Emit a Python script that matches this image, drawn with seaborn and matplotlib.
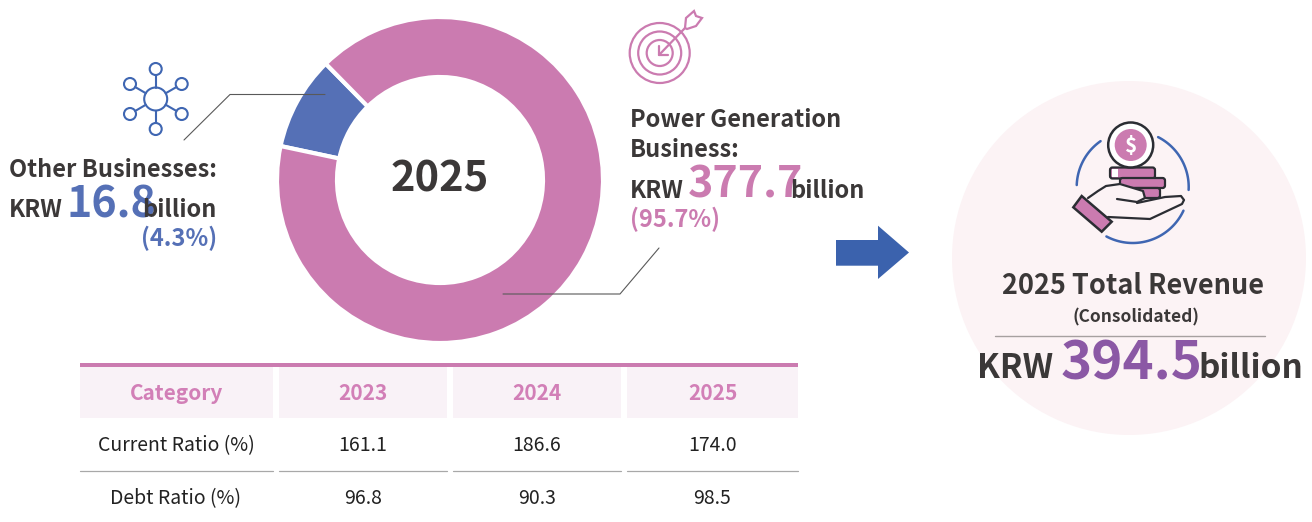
import numpy as np
import matplotlib
matplotlib.use("Agg")
import matplotlib.pyplot as plt
from matplotlib.patches import Circle, Polygon, Rectangle, FancyBboxPatch
import seaborn as sns

segments = ["Power Generation Business", "Other Businesses"]
drawn_shares = [90.7, 9.3]
revenue = [377.7, 16.8]
printed_shares = [95.7, 4.3]
total_revenue = 394.5
chart_year = "2025"

table_columns = ["Category", "2023", "2024", "2025"]
row_names = ["Current Ratio (%)", "Debt Ratio (%)"]
current_ratio = ["161.1", "186.6", "174.0"]
debt_ratio = ["96.8", "90.3", "98.5"]

PINK = "#CB7BB0"
BLUE = "#5570B6"
ICON_BLUE = "#3F66B2"
ARROW_BLUE = "#3B62AD"
PURPLE = "#8B58A5"
DARK = "#3B3838"
FONT = "Noto Sans CJK KR"

sns.set_theme(style="white")
plt.rcParams["font.family"] = [FONT, "DejaVu Sans"]

fig = plt.figure(figsize=(13.12, 5.22), dpi=100, facecolor="white")
ax = fig.add_axes([0, 0, 1, 1])
ax.set_xlim(0, 1312)
ax.set_ylim(522, 0)
ax.axis("off")


def txt(x, y, s, size, color=DARK, weight="bold", ha="left", zorder=6):
    ax.text(x, y, s, fontsize=size, color=color, fontweight=weight, ha=ha, va="baseline", zorder=zorder)


def ring(x, y, r, color, lw=1.5, face="none", z=5):
    ax.add_patch(Circle((x, y), r, fc=face, ec=color, lw=lw, zorder=z))


def arc(cx, cy, r, a1, a2, color, lw=1.5, z=5):
    t = np.radians(np.linspace(a1, a2, 50))
    ax.plot(cx + r * np.cos(t), cy + r * np.sin(t), color=color, lw=lw, zorder=z, solid_capstyle="round")


# donut
dax = fig.add_axes([(440 - 170) / 1312, (522 - 180 - 170) / 522, 340 / 1312, 340 / 522])
dax.pie(
    [drawn_shares[1], drawn_shares[0]],
    colors=[BLUE, PINK],
    startangle=134.5,
    radius=163 / 170,
    wedgeprops={"width": 60 / 170, "edgecolor": "white", "linewidth": 3},
)
dax.set_xlim(-1, 1)
dax.set_ylim(-1, 1)
dax.text(0, 0, chart_year, fontsize=30, fontweight="bold", color=DARK, ha="center", va="center")
dax.patch.set_alpha(0)

# leader lines, on top of the donut
lax = fig.add_axes([0, 0, 1, 1], sharex=ax, sharey=ax)
lax.axis("off")
lax.plot([184, 230, 325], [140, 94.5, 94.5], color="#595959", lw=0.8)
lax.plot([659, 620, 503], [248, 294, 294], color="#595959", lw=0.8)

# left label
txt(217, 177, "Other Businesses:", 17, ha="right")
txt(9, 217, "KRW", 17)
txt(67, 217, f"{revenue[1]}", 31, color=BLUE)
txt(217, 217, "billion", 17, ha="right")
txt(217, 246, f"({printed_shares[1]}%)", 17, color=BLUE, ha="right")

# right label
txt(630, 127, "Power Generation", 17)
txt(630, 157, "Business:", 17)
txt(630, 198, "KRW", 17)
txt(688, 198, f"{revenue[0]}", 31, color=PINK)
txt(790, 198, "billion", 17)
txt(630, 227, f"({printed_shares[0]}%)", 17, color=PINK)

# network icon
cx, cy = 155.7, 99
ring(cx, cy, 11.5, ICON_BLUE)
for x, y in [(155.7, 69), (155.7, 129), (130, 84), (181.7, 84), (130, 114), (181.7, 114)]:
    ring(x, y, 6, ICON_BLUE)
    d = np.array([x - cx, y - cy])
    u = d / np.hypot(*d)
    a = np.array([cx, cy]) + u * 11.5
    b = np.array([x, y]) - u * 6
    ax.plot([a[0], b[0]], [a[1], b[1]], color=ICON_BLUE, lw=1.5, zorder=5)

# target icon
for r in (30, 21.5, 13):
    ring(659.7, 53, r, PINK, lw=1.6)
ax.plot([659, 685], [55, 28], color=PINK, lw=1.6, zorder=5)
ax.plot([659, 659, 668], [46, 55, 55], color=PINK, lw=1.6, zorder=5)
ax.add_patch(Polygon([(685, 28), (686, 18), (694, 11), (696, 16), (702, 18), (696, 26), (687, 29)],
                     fc="white", ec=PINK, lw=1.6, zorder=5))

# arrow
ax.add_patch(Polygon([(836, 240), (878, 240), (878, 225.7), (909, 252.5), (878, 279), (878, 265.7), (836, 265.7)],
                     fc=ARROW_BLUE, ec="none"))

# total circle
ring(1129, 258, 177, "none", lw=0, face="#FCF3F5", z=1)

# coin icon
ICON_DARK = "#2B2D33"
arc(1132.7, 187, 56, -125, -178, ICON_BLUE, lw=1.8)
arc(1132.7, 187, 56, -63, 3, ICON_BLUE, lw=1.8)
arc(1132.7, 187, 56, 25, 118, ICON_BLUE, lw=1.8)
ring(1130.7, 145, 22.5, ICON_DARK, lw=1.8, face="white")
ring(1130.7, 145, 16, PINK, lw=0, face=PINK)
txt(1130.7, 152, "$", 15, color="white", ha="center", zorder=7)
for x0, y0, w, h, left_white in [(1110, 167.5, 45, 11, True), (1120, 178, 45, 10, False), (1120, 188, 40, 10, False)]:
    ax.add_patch(FancyBboxPatch((x0, y0), w, h, boxstyle="round,pad=0,rounding_size=2.5", fc=PINK, ec=ICON_DARK, lw=1.6, zorder=4))
    if left_white:
        ax.add_patch(Rectangle((x0 + 2, y0 + 1.5), 6, h - 3, fc="white", ec="none", zorder=5))
ax.add_patch(Polygon([(1088, 198), (1106, 184), (1120, 183), (1143, 191), (1145, 198), (1139, 202), (1165, 197),
                      (1181, 195), (1184, 200), (1182, 204), (1150, 219), (1108, 217)],
                     fc="#FCF3F5", ec="none", zorder=4.5))
ax.plot([1088, 1098, 1106, 1120, 1143, 1145, 1137, 1117], [198, 191, 186, 184, 191, 198, 202, 199], color=ICON_DARK, lw=1.6, zorder=5)
ax.plot([1108, 1150, 1182, 1184, 1181, 1165, 1137], [217, 219, 204, 200, 196, 197, 203], color=ICON_DARK, lw=1.6, zorder=5)
ax.add_patch(Polygon([(1081.7, 196), (1111.7, 221.7), (1101.7, 231.7), (1073.3, 207.3)], fc=PINK, ec=ICON_DARK, lw=1.8, zorder=5))

# total text
txt(1133, 294, "2025 Total Revenue", 19.5, ha="center")
txt(1136, 322, "(Consolidated)", 12.5, ha="center")
ax.plot([995, 1265], [335.5, 335.5], color="#A6A0A0", lw=1, zorder=3)
txt(977, 378, "KRW", 24)
txt(1061, 380, f"{total_revenue}", 38, color=PURPLE)
txt(1198, 378, "billion", 24)

# table
cols_x = [(80, 273), (279, 447), (453, 621), (627, 798)]
ax.add_patch(Rectangle((80, 363), 718, 4, fc=PINK, ec="none"))
for (x0, x1), name in zip(cols_x, table_columns):
    ax.add_patch(Rectangle((x0, 367), x1 - x0, 51, fc="#F9F2F7", ec="none"))
    txt((x0 + x1) / 2, 400, name, 15, color="#D27FB7", ha="center")
    ax.plot([x0, x1], [471, 471], color="#A8A8A8", lw=0.9)
for y, name, vals in [(451, row_names[0], current_ratio), (504, row_names[1], debt_ratio)]:
    txt(176, y, name, 14, color="#222222", weight="normal", ha="center")
    for (x0, x1), v in zip(cols_x[1:], vals):
        txt((x0 + x1) / 2, y, v, 14, color="#222222", weight="normal", ha="center")

fig.savefig("out.png", dpi=100, facecolor="white")
